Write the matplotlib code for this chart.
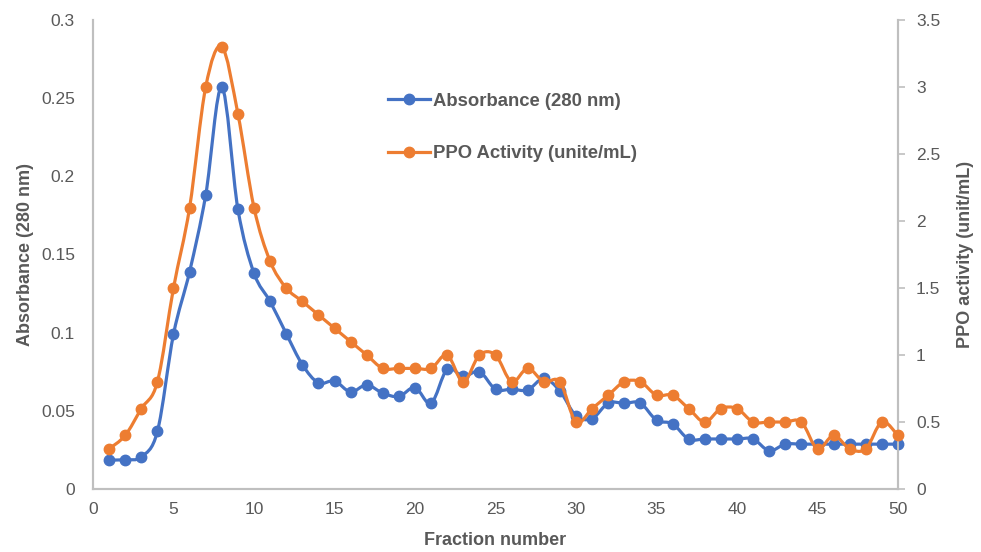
import numpy as np
import matplotlib
matplotlib.use("Agg")
from matplotlib import pyplot as plt
from matplotlib.path import Path
from matplotlib.patches import PathPatch
from matplotlib.lines import Line2D

plt.rcParams['font.family'] = ['Liberation Sans', 'DejaVu Sans']

fraction = np.arange(1, 51)
absorbance = [0.0187, 0.0187, 0.0206, 0.0368, 0.099, 0.139, 0.188, 0.257, 0.179, 0.138,
              0.120, 0.0994, 0.0796, 0.0679, 0.0691, 0.0621, 0.0666, 0.0613, 0.0592, 0.0649,
              0.0549, 0.0766, 0.072, 0.0751, 0.0638, 0.0638, 0.0634, 0.0707, 0.0627, 0.0468,
              0.0451, 0.0549, 0.0549, 0.0549, 0.044, 0.0417, 0.0319, 0.032, 0.032, 0.032,
              0.032, 0.0245, 0.0287, 0.0287, 0.0287, 0.0287, 0.0287, 0.0287, 0.0287, 0.0287]
ppo = [0.3, 0.4, 0.6, 0.8, 1.5, 2.1, 3.0, 3.3, 2.8, 2.1,
       1.7, 1.5, 1.4, 1.3, 1.2, 1.1, 1.0, 0.9, 0.9, 0.9,
       0.9, 1.0, 0.8, 1.0, 1.0, 0.8, 0.9, 0.8, 0.8, 0.5,
       0.6, 0.7, 0.8, 0.8, 0.7, 0.7, 0.6, 0.5, 0.6, 0.6,
       0.5, 0.5, 0.5, 0.5, 0.3, 0.4, 0.3, 0.3, 0.5, 0.4]

blue = '#4472C4'
orange = '#ED7D31'
grey = '#BFBFBF'
txt = '#595959'


def smooth_path(xs, ys):
    # Excel style smoothed line: Catmull-Rom segments as cubic Bezier
    xs = np.asarray(xs, float)
    ys = np.asarray(ys, float)
    pts = np.column_stack([xs, ys])
    verts = [pts[0]]
    codes = [Path.MOVETO]
    n = len(pts)
    for i in range(n - 1):
        p0 = pts[i - 1] if i > 0 else pts[i]
        p1 = pts[i]
        p2 = pts[i + 1]
        p3 = pts[i + 2] if i + 2 < n else pts[i + 1]
        c1 = p1 + (p2 - p0) / 6.0
        c2 = p2 - (p3 - p1) / 6.0
        verts += [c1, c2, p2]
        codes += [Path.CURVE4] * 3
    return Path(verts, codes)


fig = plt.figure(figsize=(9.81, 5.52), dpi=100)
ax = fig.add_axes([0.0948, 0.1141, 0.8206, 0.8497])
ax2 = ax.twinx()

ax.add_patch(PathPatch(smooth_path(fraction, absorbance), fill=False,
                       edgecolor=blue, lw=2.3, zorder=3, clip_on=False))
ax.plot(fraction, absorbance, 'o', color=blue, ms=7.5, zorder=4, clip_on=False)
ax2.add_patch(PathPatch(smooth_path(fraction, ppo), fill=False,
                        edgecolor=orange, lw=2.3, zorder=3, clip_on=False))
ax2.plot(fraction, ppo, 'o', color=orange, ms=7.5, zorder=4, clip_on=False)

ax.set_xlim(0, 50)
ax.set_ylim(0, 0.3)
ax2.set_ylim(0, 3.5)
ax.set_xticks(np.arange(0, 51, 5))
ax.set_yticks(np.arange(0, 0.31, 0.05))
ax.set_yticklabels(['0', '0.05', '0.1', '0.15', '0.2', '0.25', '0.3'])
ax2.set_yticks(np.arange(0, 3.51, 0.5))
ax2.set_yticklabels(['0', '0.5', '1', '1.5', '2', '2.5', '3', '3.5'])

for a in (ax, ax2):
    for s in a.spines.values():
        s.set_color(grey)
        s.set_linewidth(1.5)
    a.spines['top'].set_visible(False)

ax.tick_params(axis='both', length=0, labelsize=12.5, colors=txt)
ax.tick_params(axis='y', pad=13)
ax.tick_params(axis='x', pad=9)
ax2.tick_params(axis='y', length=5, width=1.2, color=grey, labelsize=12.5,
                labelcolor=txt, pad=8)

ax.set_xlabel('Fraction number', fontsize=13, fontweight='bold', color=txt, labelpad=11)
ax.set_ylabel('Absorbance (280 nm)', fontsize=13, fontweight='bold', color=txt, labelpad=5)
ax2.set_ylabel('PPO activity (unit/mL)', fontsize=13, fontweight='bold', color=txt, labelpad=12)

handles = [Line2D([], [], color=blue, lw=2.3, marker='o', ms=7.5),
           Line2D([], [], color=orange, lw=2.3, marker='o', ms=7.5)]
leg = ax2.legend(handles, ['Absorbance (280 nm)', 'PPO Activity (unite/mL)'],
                 loc='upper left', bbox_to_anchor=(0.346, 0.88), frameon=False,
                 handlelength=2.25, handletextpad=0.2, labelspacing=1.9,
                 prop={'size': 13.3, 'weight': 'bold'})
for t in leg.get_texts():
    t.set_color(txt)

fig.savefig('out.png', dpi=100)
